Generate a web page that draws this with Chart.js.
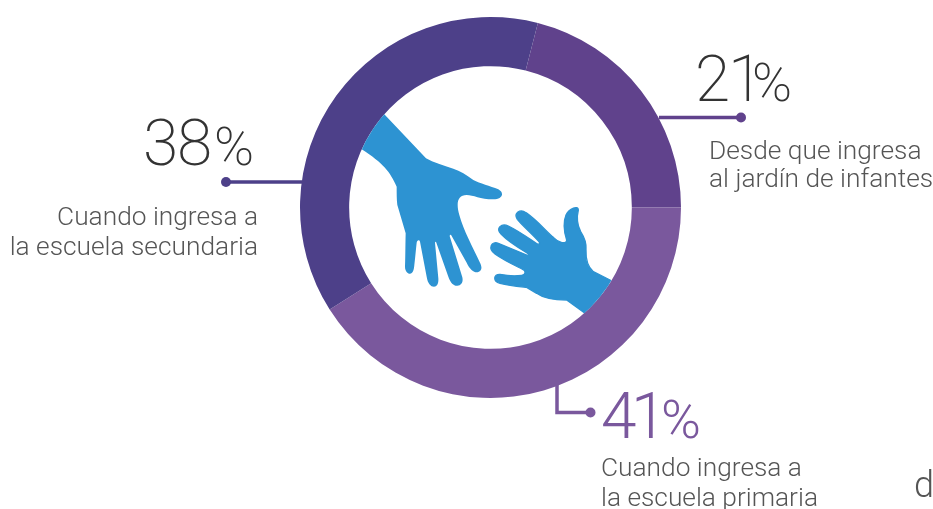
<!DOCTYPE html>
<html><head><meta charset="utf-8">
<style>html,body{margin:0;padding:0;background:#fff}#w{position:relative;width:933px;height:509px;overflow:hidden}canvas{display:block}</style>
<script src="https://cdn.jsdelivr.net/npm/chart.js@4"></script>
</head><body><div id="w"><canvas id="c" width="933" height="509"></canvas></div>
<script>
const categories=[["Desde que ingresa","al jardín de infantes"],["Cuando ingresa a","la escuela primaria"],["Cuando ingresa a","la escuela secundaria"]];
const values=[21,41,38];
const colors=["#60428c","#7a589d","#4d4089"];
const bigHand=[[135,45],[100,5],[20,110],[65,148],'C',[130,190,150,215,170,260],'C',[170,280,170,300,172,315],'L',[197,400],'C',[196,440,196,490,195,500],'C',[195,515,205,522,210,521],'C',[218,521,222,510,223,495],'C',[226,470,228,445,230,428],'C',[231,420,238,418,240,425],'L',[260,530],'C',[263,550,272,560,282,560],'C',[292,560,296,550,295,535],'L',[285,428],'C',[286,424,288,425,289,428],'L',[325,530],'C',[332,550,342,558,352,557],'C',[365,556,370,545,367,532],'L',[329,408],'C',[330,403,333,404,335,408],'L',[380,488],'C',[390,510,405,520,415,516],'C',[427,512,426,500,420,488],'C',[400,445,370,390,358,345],'C',[348,310,352,285,380,285],'C',[400,285,420,298,460,298],'C',[485,298,496,280,475,268],'C',[450,258,420,250,400,240],'C',[380,225,360,212,340,206],'C',[310,197,280,187,258,175]];
const smallHand=[[810,540],[860,570],[790,680],[735,640],'L',[680,600],'C',[640,600,610,595,590,580],'L',[560,562],'C',[540,560,510,558,480,550],'C',[458,544,460,522,480,523],'C',[500,527,530,528,545,526],'C',[558,524,558,512,548,508],'C',[520,494,490,480,465,462],'C',[442,445,455,422,475,430],'L',[562,466],'C',[568,466,566,462,560,458],'C',[530,440,500,420,483,402],'C',[465,385,485,368,505,378],'C',[540,395,570,418,592,432],'C',[600,434,600,428,596,424],'C',[575,400,545,375,532,358],'C',[520,340,540,325,558,338],'C',[590,360,620,395,640,412],'C',[655,428,680,435,680,420],'C',[672,395,668,370,678,345],'C',[688,325,715,315,715,330],'C',[710,350,712,375,722,395],'C',[735,415,740,430,738,450],'C',[737,480,742,500,760,515]];
function trace(ctx,p){
  ctx.beginPath();ctx.moveTo(p[0][0],p[0][1]);
  for(let i=1;i<p.length;i++){const q=p[i];
    if(typeof q==='string')continue;
    if(q.length===6)ctx.bezierCurveTo(...q);else ctx.lineTo(q[0],q[1]);}
  ctx.closePath();
}
function text(ctx,s,x,y,font,color,align){ctx.font=font;ctx.fillStyle=color;ctx.textAlign=align||'left';ctx.textBaseline='alphabetic';ctx.fillText(s,x,y);}
function leader(ctx,pts,color){ctx.strokeStyle=color;ctx.lineWidth=3.5;ctx.beginPath();pts.forEach((p,i)=>i?ctx.lineTo(p[0],p[1]):ctx.moveTo(p[0],p[1]));ctx.stroke();
  const d=pts[0];ctx.fillStyle=color;ctx.beginPath();ctx.arc(d[0],d[1],5,0,7);ctx.fill();}
function number(ctx,v,xs,pcx,y,big,pc,color){
  String(v).split('').forEach((ch,i)=>text(ctx,ch,xs[i],y,big,color));
  text(ctx,'%',pcx,y,pc,color);
}
const overlay={id:'overlay',afterDatasetsDraw(chart){
  const ctx=chart.ctx,arc=chart.getDatasetMeta(0).data[0];
  ctx.save();
  ctx.beginPath();ctx.arc(arc.x,arc.y,arc.innerRadius,0,Math.PI*2);ctx.clip();
  ctx.translate(340,100);ctx.scale(1/3,1/3);ctx.fillStyle="#2d93d2";ctx.strokeStyle="#2d93d2";ctx.lineWidth=4;
  trace(ctx,bigHand);ctx.fill();trace(ctx,smallHand);ctx.fill();ctx.stroke();
  ctx.restore();
  ctx.save();
  leader(ctx,[[741,117.5],[659,117.5]],colors[0]);
  leader(ctx,[[590.5,412.5],[557,412.5],[557,385]],colors[1]);
  leader(ctx,[[226,182],[302,182]],colors[2]);
  const big='200 64px Roboto',pc='200 54px Roboto',lab='300 26.3px Roboto';
  const dark='#333333',gray='#555555';
  number(ctx,values[0],[695,728],752,101,big,pc,dark);
  text(ctx,categories[0][0],709,159,lab,gray);text(ctx,categories[0][1],709,187,lab,gray);
  number(ctx,values[1],[601,631],661,438,'300 64px Roboto','300 54px Roboto',colors[1]);
  text(ctx,categories[1][0],601,476,lab,gray);text(ctx,categories[1][1],601,506,lab,gray);
  number(ctx,values[2],[143,177],214,165,big,pc,dark);
  text(ctx,categories[2][0],258,225,lab,gray,'right');text(ctx,categories[2][1],258,255,lab,gray,'right');
  text(ctx,'d',914,497,'300 36px Roboto',gray);
  ctx.restore();
}};
new Chart(document.getElementById('c'),{type:'doughnut',
  data:{labels:categories.map(c=>c.join(' ')),datasets:[{data:values,backgroundColor:colors,borderWidth:0}]},
  options:{responsive:false,animation:false,rotation:14.4,cutout:'74.2%',
    layout:{padding:{left:48,right:0,top:17,bottom:111}},
    plugins:{legend:{display:false},tooltip:{enabled:false}}},
  plugins:[overlay]});
</script></body></html>
